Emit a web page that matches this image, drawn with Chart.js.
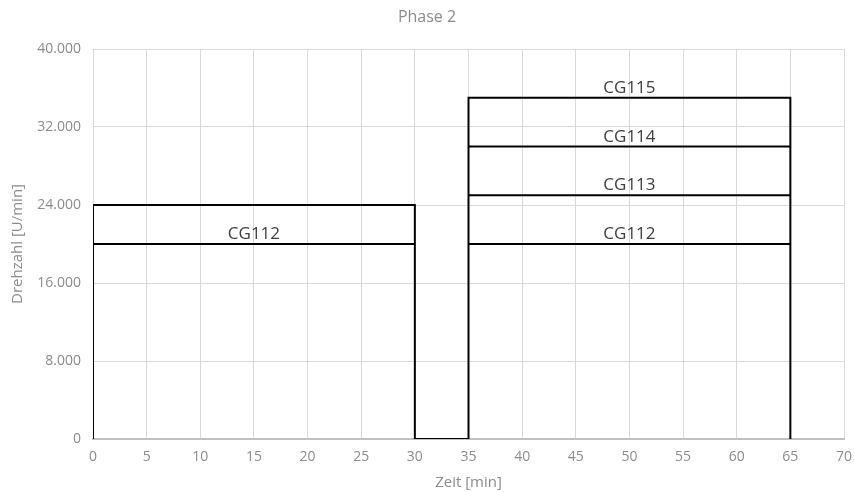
<!DOCTYPE html>
<html>
<head>
<meta charset="utf-8">
<script src="https://cdn.jsdelivr.net/npm/chart.js@4/dist/chart.umd.min.js"></script>
<style>
  html, body { margin: 0; padding: 0; background: #fff; }
  #wrap { width: 854px; height: 492px; }
</style>
</head>
<body>
<div id="wrap"><canvas id="chart"></canvas></div>
<script>
// outline of the speed profile (time in min, speed in U/min)
const outlineX = [0, 0, 30, 30, 35, 35, 65, 65];
const outlineY = [0, 24000, 24000, 0, 0, 35000, 35000, 0];

// inner level lines
const levelStart = [0, 35, 35, 35];
const levelEnd = [30, 65, 65, 65];
const levelY = [20000, 20000, 25000, 30000];

// text labels above the levels
const labelText = ['CG112', 'CG112', 'CG113', 'CG114', 'CG115'];
const labelX = [15, 50, 50, 50, 50];
const labelY = [20000, 20000, 25000, 30000, 35000];

const xTicks = [0, 5, 10, 15, 20, 25, 30, 35, 40, 45, 50, 55, 60, 65, 70];
const yTicks = [0, 8000, 16000, 24000, 32000, 40000];

const fontFam = '"Open Sans", Lato, sans-serif';
const tickColor = '#8c8c8c';

function fmt(v) {
  return String(v).replace(/\B(?=(\d{3})+(?!\d))/g, '.');
}

const datasets = [{
  data: outlineX.map((x, i) => ({ x: x, y: outlineY[i] })),
}];
levelY.forEach((y, i) => {
  datasets.push({ data: [{ x: levelStart[i], y: y }, { x: levelEnd[i], y: y }] });
});
datasets.forEach((d) => {
  d.borderColor = '#000';
  d.borderWidth = 2;
  d.pointRadius = 0;
  d.tension = 0;
  d.fill = false;
});

const labelPlugin = {
  id: 'levelLabels',
  afterDatasetsDraw(chart) {
    const ctx = chart.ctx;
    const xs = chart.scales.x;
    const ys = chart.scales.y;
    ctx.save();
    ctx.font = '17px ' + fontFam;
    ctx.fillStyle = '#404040';
    ctx.textAlign = 'center';
    ctx.textBaseline = 'alphabetic';
    labelText.forEach((t, i) => {
      ctx.fillText(t, xs.getPixelForValue(labelX[i]), ys.getPixelForValue(labelY[i]) - 5);
    });
    ctx.restore();
  }
};

new Chart(document.getElementById('chart'), {
  type: 'line',
  data: { datasets: datasets },
  plugins: [labelPlugin],
  options: {
    responsive: true,
    maintainAspectRatio: false,
    animation: false,
    parsing: false,
    layout: { padding: { left: 0, right: 0, top: 0, bottom: 0 } },
    plugins: {
      legend: { display: false },
      tooltip: { enabled: false },
      title: {
        display: true,
        text: 'Phase 2',
        color: tickColor,
        font: { family: fontFam, size: 16, weight: 'normal' },
        padding: { top: 8, bottom: 21.8 },
      },
    },
    scales: {
      x: {
        type: 'linear',
        min: 0,
        max: 70,
        afterBuildTicks: (s) => { s.ticks = xTicks.map((v) => ({ value: v })); },
        afterFit: (s) => { s.height = 53; s.paddingRight = 10; },
        grid: { color: '#d9d9d9', drawTicks: false },
        border: { color: '#bfbfbf', width: 2 },
        ticks: {
          color: tickColor,
          padding: 10,
          maxRotation: 0,
          font: { family: fontFam, size: 14 },
        },
        title: {
          display: true,
          text: 'Zeit [min]',
          color: tickColor,
          padding: { top: 0, bottom: 0 },
          font: { family: fontFam, size: 15 },
        },
      },
      y: {
        min: 0,
        max: 40000,
        afterBuildTicks: (s) => { s.ticks = yTicks.map((v) => ({ value: v })); },
        afterFit: (s) => { s.width = 93; },
        grid: { color: '#d9d9d9', drawTicks: false },
        border: { display: false },
        ticks: {
          color: tickColor,
          padding: 12,
          font: { family: fontFam, size: 14 },
          callback: (v) => fmt(v),
        },
        title: {
          display: true,
          text: 'Drehzahl [U/min]',
          color: tickColor,
          padding: { top: 9, bottom: 4 },
          font: { family: fontFam, size: 15 },
        },
      },
    },
  },
});
</script>
</body>
</html>
